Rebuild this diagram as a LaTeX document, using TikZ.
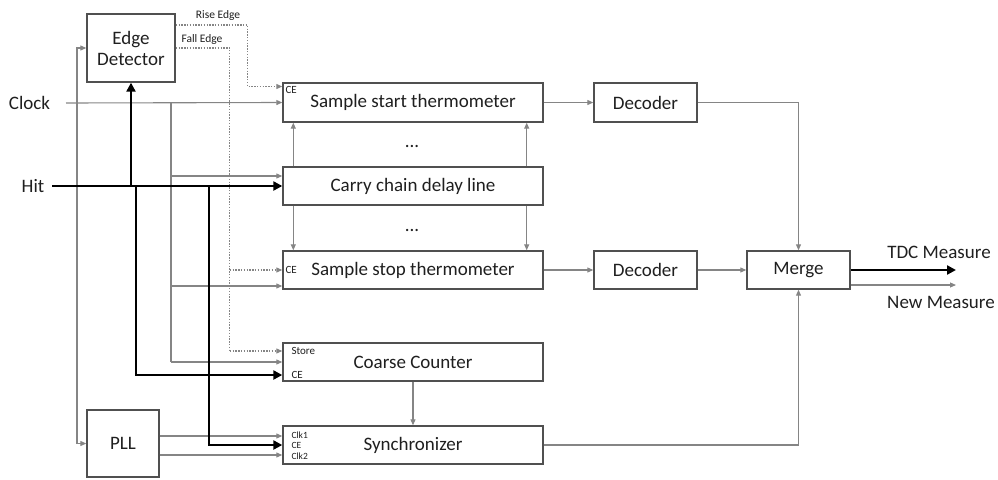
\documentclass[tikz,border=0pt]{standalone}
\usepackage{fontspec}
\setmainfont{Carlito}
\usetikzlibrary{arrows.meta,calc}
\definecolor{txt}{HTML}{1F1F1F}
\definecolor{boxc}{HTML}{505050}
\definecolor{linec}{HTML}{858585}
\begin{document}
\begin{tikzpicture}[x=1pt,y=-1pt,
  font=\fontsize{19}{22}\selectfont, text=txt,
  blk/.style={draw=boxc, line width=1.4pt, fill=white, inner sep=0pt, align=center},
  ln/.style={draw=linec, line width=1.1pt},
  thk/.style={draw=black, line width=2.8pt},
  dt/.style={draw=linec, line width=1.1pt, dash pattern=on 1.4pt off 1.4pt},
  tip/.style={-{Triangle[length=6pt,width=5pt]}},
  ttip/.style={-{Triangle[length=9pt,width=9pt]}},
  pin/.style={font=\fontsize{11}{11}\selectfont, inner sep=0pt, anchor=west},
  spin/.style={font=\fontsize{9.5}{9.5}\selectfont, inner sep=0pt, anchor=west},
  lbl/.style={font=\fontsize{11.5}{12}\selectfont, inner sep=0pt}
]
\useasboundingbox (0,0) rectangle (998,479);

% blocks
\node[blk, minimum width=88pt, minimum height=68pt] (ed) at (131,48) {Edge\\[-1pt]Detector};
\node[blk, minimum width=72pt, minimum height=67pt] (pll) at (123,443.5) {PLL};
\node[blk, minimum width=260pt, minimum height=39pt] (sst) at (413,102.5) {Sample start thermometer};
\node[blk, minimum width=260pt, minimum height=38pt] (ccd) at (413,186) {Carry chain delay line};
\node[blk, minimum width=260pt, minimum height=38pt] (sso) at (413,270) {Sample stop thermometer};
\node[blk, minimum width=260pt, minimum height=38pt] (cc) at (413,362) {Coarse Counter};
\node[blk, minimum width=260pt, minimum height=38pt] (sync) at (413,445) {Synchronizer};
\node[blk, minimum width=103pt, minimum height=39pt] (dec1) at (645.5,102.5) {Decoder};
\node[blk, minimum width=103pt, minimum height=38pt] (dec2) at (645.5,270) {Decoder};
\node[blk, minimum width=103pt, minimum height=38pt] (merge) at (798.5,270) {Merge};

% external signals
\node[inner sep=0pt] (clock) at (29.5,103) {Clock};
\node[inner sep=0pt] (hit) at (33,186) {Hit};
\node[inner sep=0pt] (tdc) at (939,252) {TDC Measure};
\node[inner sep=0pt] (newm) at (941,302) {New Measure};
\node (dots1) at (412,146) {...};
\node (dots2) at (412,230) {...};

% input pins
\coordinate (sstCE) at ($(sst.west)+(0,-16)$);
\coordinate (ccdCk) at ($(ccd.west)+(0,-10)$);
\coordinate (ssoCE) at (sso.west);
\coordinate (ssoCk) at ($(sso.west)+(0,16)$);
\coordinate (ccSt) at ($(cc.west)+(0,-11)$);
\coordinate (ccCk) at (cc.west);
\coordinate (ccCE) at ($(cc.west)+(0,13)$);
\coordinate (syC1) at ($(sync.west)+(0,-9)$);
\coordinate (syCE) at (sync.west);
\coordinate (syC2) at ($(sync.west)+(0,10)$);

\node[pin] at ($(sstCE)+(3,3)$) {CE};
\node[pin] at ($(ssoCE)+(3,0)$) {CE};
\node[pin] at ($(ccSt)+(9,0)$) {Store};
\node[pin] at ($(ccCE)+(9,0)$) {CE};
\node[spin] at ($(syC1)+(9,-0.5)$) {Clk1};
\node[spin] at ($(syCE)+(9,0.5)$) {CE};
\node[spin] at ($(syC2)+(9,1)$) {Clk2};

% clock distribution
\coordinate (clkS) at (66,103);
\coordinate (cv) at (77,103);
\coordinate (cb) at (171,103);
\draw[ln,tip] (clkS) -- (sst.west);
\draw[ln,tip] (cv) |- (ed.west);
\draw[ln,tip] (cv) |- (pll.west);
\draw[ln] (cb) -- (cb |- ccCk);
\draw[ln,tip] (cb |- ccdCk) -- (ccdCk);
\draw[ln,tip] (cb |- ssoCk) -- (ssoCk);
\draw[ln,tip] (cb |- ccCk) -- (ccCk);

% PLL clocks
\draw[ln,tip] (pll.east |- syC1) -- (syC1);
\draw[ln,tip] (pll.east |- syC2) -- (syC2);

% edge detector outputs
\node[lbl] (rise) at (218,15) {Rise Edge};
\node[lbl] (fall) at (202,39) {Fall Edge};
\draw[dt,tip] ($(ed.east)+(0,-23)$) -- ++(72,0) |- (sstCE);
\draw[dt] (ed.east) -- ++(54,0) coordinate (fe) -- (fe |- ccSt);
\draw[dt,tip] (fe |- ssoCE) -- (ssoCE);
\draw[dt,tip] (fe |- ccSt) -- (ccSt);

% hit distribution
\coordinate (hitS) at (52,186);
\draw[thk,ttip] (hitS) -- (ccd.west);
\draw[thk,ttip] (ed.south |- hitS) -- (ed.south);
\draw[thk,ttip] (136,186) |- (ccCE);
\draw[thk,ttip] (209,186) |- (syCE);

% delay line taps
\draw[ln,tip] ($(ccd.north west)+(11,0)$) -- ($(sst.south west)+(11,0)$);
\draw[ln,tip] ($(ccd.north east)+(-17,0)$) -- ($(sst.south east)+(-17,0)$);
\draw[ln,tip] ($(ccd.south west)+(11,0)$) -- ($(sso.north west)+(11,0)$);
\draw[ln,tip] ($(ccd.south east)+(-17,0)$) -- ($(sso.north east)+(-17,0)$);

% data path
\draw[ln,tip] (sst.east) -- (dec1.west);
\draw[ln,tip] (sso.east) -- (dec2.west);
\draw[ln,tip] (dec1.east) -| (merge.north);
\draw[ln,tip] (dec2.east) -- (merge.west);
\draw[ln,tip] (cc.south) -- (sync.north);
\draw[ln,tip] (sync.east) -| (merge.south);

% outputs
\coordinate (tdcEnd) at (956,270);
\coordinate (newEnd) at (956,285);
\draw[thk,ttip] (merge.east) -- (tdcEnd);
\draw[ln,tip] (merge.east |- newEnd) -- (newEnd);
\end{tikzpicture}
\end{document}
